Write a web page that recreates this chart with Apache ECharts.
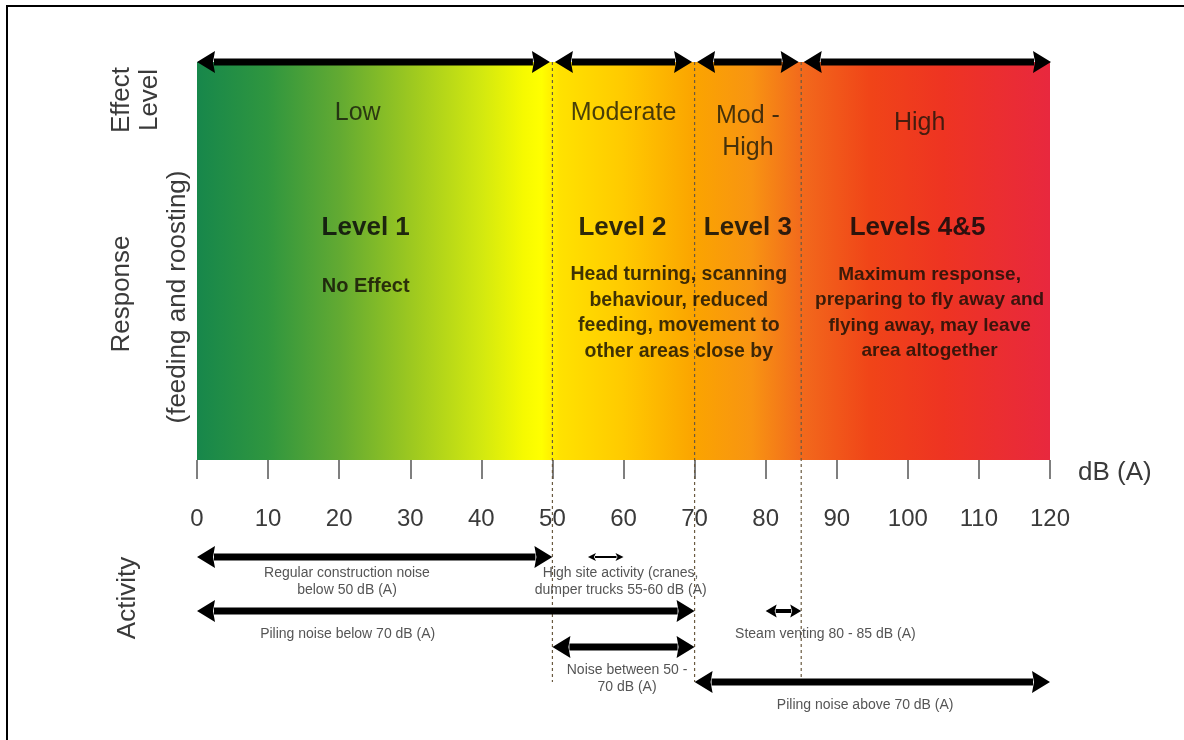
<!DOCTYPE html>
<html><head><meta charset="utf-8">
<script src="https://cdn.jsdelivr.net/npm/echarts@6/dist/echarts.min.js"></script>
<style>html,body{margin:0;padding:0;background:#fff}#c{width:1184px;height:740px}</style>
</head><body><div id="c"></div>
<script>
// ---------------- data ----------------
const dbTicks = [0, 10, 20, 30, 40, 50, 60, 70, 80, 90, 100, 110, 120];
const dbRange = [0, 120];
const effectNames = ['Low', 'Moderate', 'Mod -\nHigh', 'High'];
const effectFrom = [0, 50, 70, 85];
const effectTo = [50, 70, 85, 120];
const responseNames = ['Level 1', 'Level 2', 'Level 3', 'Levels 4&5'];
const responseNotes = [
  'No Effect',
  'Head turning, scanning\nbehaviour, reduced\nfeeding, movement to\nother areas close by',
  'Maximum response,\npreparing to fly away and\nflying away, may leave\narea altogether'
];
const responseNoteFrom = [0, 50, 85];
const responseNoteTo = [50, 85, 120];
const dividers = [50, 70, 85];
const activityNames = [
  'Regular construction noise\nbelow 50 dB (A)',
  'High site activity (cranes,\ndumper trucks 55-60 dB (A)',
  'Piling noise below 70 dB (A)',
  'Steam venting 80 - 85 dB (A)',
  'Noise between 50 -\n70 dB (A)',
  'Piling noise above 70 dB (A)'
];
const activityFrom = [0, 55, 0, 80, 50, 70];
const activityTo = [50, 60, 70, 85, 70, 120];
const activityLane = [0, 0, 1, 1, 2, 3];

// ---------------- layout / style ----------------
const FONT = '"Liberation Sans", Arial, sans-serif';
const L = {
  bandTop: 398,
  effectY: [347, 347, 328, 337],
  effectDx: [-17, 0, 0, -6],
  levelY: 232,
  levelDx: [-9, -1, 0, -8],
  noteY: [174, 147, 147],
  noteDx: [-9, 2, 4],
  noteSize: [20, 19.5, 19],
  laneY: [-97, -151, -187, -222],
  laneTextGap: [8, 15, 15, 15],
  activityLabelAt: [21.1, 59.6, 21.2, 88.4, 60.5, 94],
  activityArrow: ['big', 'small', 'big', 'mid', 'big', 'big']
};
const ARROWS = {
  big: { w: 7, hl: 18, hh: 11 },
  mid: { w: 4, hl: 11, hh: 6.5 },
  small: { w: 2, hl: 8, hh: 4 }
};

function arrowShapes(x1, x2, y, s, color) {
  return [
    { type: 'rect', shape: { x: x1 + s.hl - 1, y: y - s.w / 2, width: x2 - x1 - 2 * s.hl + 2, height: s.w }, style: { fill: color } },
    { type: 'polygon', shape: { points: [[x1, y], [x1 + s.hl, y - s.hh], [x1 + s.hl - 2, y], [x1 + s.hl, y + s.hh]] }, style: { fill: color } },
    { type: 'polygon', shape: { points: [[x2, y], [x2 - s.hl, y - s.hh], [x2 - s.hl + 2, y], [x2 - s.hl, y + s.hh]] }, style: { fill: color } }
  ];
}

const chart = echarts.init(document.getElementById('c'), null, { renderer: 'canvas' });

const option = {
  animation: false,
  backgroundColor: '#fff',
  grid: { left: 197, right: 134, top: 60, bottom: 280, containLabel: false, outerBoundsMode: 'none' },
  xAxis: {
    type: 'value', min: dbRange[0], max: dbRange[1], interval: 10,
    axisLine: { show: false },
    axisTick: { show: true, length: 19, lineStyle: { color: '#555', width: 1.5 } },
    splitLine: { show: false },
    axisLabel: {
      margin: 47, fontSize: 24, color: '#3a3a3a', fontFamily: FONT,
      customValues: dbTicks, formatter: v => String(v)
    },
    name: 'dB (A)', nameLocation: 'end', nameGap: 28,
    nameTextStyle: { fontSize: 26, color: '#3a3a3a', fontFamily: FONT, verticalAlign: 'top', align: 'left', padding: [0, 0, 0, 0] }
  },
  yAxis: { type: 'value', min: 0, max: 400, show: false, splitLine: { show: false } },
  graphic: [
    { type: 'line', shape: { x1: 7, y1: 6, x2: 7, y2: 740 }, style: { stroke: '#000', lineWidth: 2 } },
    { type: 'line', shape: { x1: 6, y1: 6, x2: 1184, y2: 6 }, style: { stroke: '#000', lineWidth: 2 } },
    { type: 'text', x: 122, y: 100, rotation: Math.PI / 2, style: { text: 'Effect', fontSize: 26, fontFamily: FONT, fill: '#3a3a3a', align: 'center', verticalAlign: 'middle' } },
    { type: 'text', x: 150, y: 100, rotation: Math.PI / 2, style: { text: 'Level', fontSize: 26, fontFamily: FONT, fill: '#3a3a3a', align: 'center', verticalAlign: 'middle' } },
    { type: 'text', x: 122, y: 294, rotation: Math.PI / 2, style: { text: 'Response', fontSize: 26, fontFamily: FONT, fill: '#3a3a3a', align: 'center', verticalAlign: 'middle' } },
    { type: 'text', x: 178, y: 297, rotation: Math.PI / 2, style: { text: '(feeding and roosting)', fontSize: 26, fontFamily: FONT, fill: '#3a3a3a', align: 'center', verticalAlign: 'middle' } },
    { type: 'text', x: 128, y: 598, rotation: Math.PI / 2, style: { text: 'Activity', fontSize: 26, fontFamily: FONT, fill: '#3a3a3a', align: 'center', verticalAlign: 'middle' } }
  ],
  series: [
    { // gradient band
      type: 'custom', silent: true, z: 1, clip: false,
      data: [[dbRange[0], dbRange[1]]],
      renderItem: (params, api) => {
        const p1 = api.coord([api.value(0), L.bandTop]);
        const p2 = api.coord([api.value(1), 0]);
        return {
          type: 'rect',
          shape: { x: p1[0], y: p1[1], width: p2[0] - p1[0], height: p2[1] - p1[1] },
          style: {
            fill: new echarts.graphic.LinearGradient(0, 0, 1, 0, [
              { offset: 0, color: '#17874b' },
              { offset: 0.083, color: '#2f963f' },
              { offset: 0.167, color: '#62aa32' },
              { offset: 0.25, color: '#9cc820' },
              { offset: 0.333, color: '#d2e810' },
              { offset: 0.383, color: '#f6fa00' },
              { offset: 0.404, color: '#ffff00' },
              { offset: 0.425, color: '#ffe200' },
              { offset: 0.5, color: '#ffca00' },
              { offset: 0.583, color: '#fba400' },
              { offset: 0.65, color: '#f89412' },
              { offset: 0.708, color: '#f26a1c' },
              { offset: 0.79, color: '#f04418' },
              { offset: 0.875, color: '#ee3422' },
              { offset: 1, color: '#e8283e' }
            ])
          }
        };
      }
    },
    { // dashed dividers
      type: 'custom', silent: true, z: 2, clip: false,
      data: dividers.map(d => [d]),
      renderItem: (params, api) => {
        const a = api.coord([api.value(0), L.bandTop]);
        const b = api.coord([api.value(0), L.laneY[3]]);
        return { type: 'line', shape: { x1: a[0], y1: a[1], x2: b[0], y2: b[1] }, style: { stroke: '#6a5a40', lineWidth: 1.2, lineDash: [3, 3] } };
      }
    },
    { // effect level arrows on top
      type: 'custom', silent: true, z: 4, clip: false,
      data: effectFrom.map((f, i) => [f, effectTo[i]]),
      renderItem: (params, api) => {
        const i = params.dataIndex;
        const a = api.coord([api.value(0), L.bandTop]);
        const b = api.coord([api.value(1), L.bandTop]);
        const x1 = a[0] + (i === 0 ? 0 : 2.5);
        const x2 = b[0] - (i === effectFrom.length - 1 ? -1 : 2.5);
        return { type: 'group', children: arrowShapes(x1, x2, a[1], ARROWS.big, '#000') };
      }
    },
    { // effect level labels
      type: 'custom', silent: true, z: 5, clip: false,
      data: effectFrom.map((f, i) => [f, effectTo[i]]),
      renderItem: (params, api) => {
        const i = params.dataIndex;
        const p = api.coord([(api.value(0) + api.value(1)) / 2, L.effectY[i]]);
        return { type: 'text', x: p[0] + L.effectDx[i], y: p[1], style: { text: effectNames[i], fontSize: 25, fontFamily: FONT, fill: 'rgba(20,20,10,0.78)', align: 'center', verticalAlign: 'middle', lineHeight: 32 } };
      }
    },
    { // response level names
      type: 'custom', silent: true, z: 5, clip: false,
      data: effectFrom.map((f, i) => [f, effectTo[i]]),
      renderItem: (params, api) => {
        const i = params.dataIndex;
        const p = api.coord([(api.value(0) + api.value(1)) / 2, L.levelY]);
        return { type: 'text', x: p[0] + L.levelDx[i], y: p[1], style: { text: responseNames[i], fontSize: 26, fontWeight: 'bold', fontFamily: FONT, fill: 'rgba(10,10,10,0.85)', align: 'center', verticalAlign: 'middle' } };
      }
    },
    { // response descriptions
      type: 'custom', silent: true, z: 5, clip: false,
      data: responseNoteFrom.map((f, i) => [f, responseNoteTo[i]]),
      renderItem: (params, api) => {
        const i = params.dataIndex;
        const p = api.coord([(api.value(0) + api.value(1)) / 2, L.noteY[i]]);
        return { type: 'text', x: p[0] + L.noteDx[i], y: p[1], style: { text: responseNotes[i], fontSize: L.noteSize[i], fontWeight: 'bold', fontFamily: FONT, fill: 'rgba(20,15,5,0.82)', align: 'center', verticalAlign: 'middle', lineHeight: 25.5 } };
      }
    },
    { // activities
      type: 'custom', silent: true, z: 5, clip: false,
      data: activityFrom.map((f, i) => [f, activityTo[i], activityLane[i]]),
      renderItem: (params, api) => {
        const i = params.dataIndex;
        const lane = api.value(2);
        const a = api.coord([api.value(0), L.laneY[lane]]);
        const b = api.coord([api.value(1), L.laneY[lane]]);
        const t = api.coord([L.activityLabelAt[i], L.laneY[lane]]);
        const children = arrowShapes(a[0], b[0], a[1], ARROWS[L.activityArrow[i]], '#000');
        children.push({ type: 'text', x: t[0], y: a[1] + L.laneTextGap[lane], style: { text: activityNames[i], fontSize: 14, fontFamily: FONT, fill: '#555', align: 'center', verticalAlign: 'top', lineHeight: 17 } });
        return { type: 'group', children };
      }
    }
  ]
};
chart.setOption(option);
</script>
</body></html>
